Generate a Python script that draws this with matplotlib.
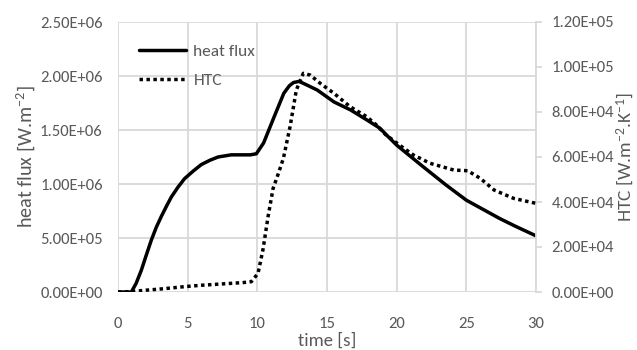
import matplotlib
matplotlib.use("Agg")
import matplotlib.pyplot as plt
from matplotlib import font_manager

fams = set(f.name for f in font_manager.fontManager.ttflist)
FONT = next((f for f in ["Carlito", "PT Sans Narrow", "Liberation Sans"] if f in fams), "DejaVu Sans")
plt.rcParams['font.family'] = [FONT, 'DejaVu Sans']
plt.rcParams['mathtext.fontset'] = 'custom'
plt.rcParams['mathtext.rm'] = FONT
plt.rcParams['mathtext.it'] = FONT
plt.rcParams['mathtext.default'] = 'rm'

# Data
t_hf = [0, 0.5, 0.96, 1.3, 1.67, 2.0, 2.39, 2.75, 3.11, 3.5, 3.83, 4.3, 4.78, 5.4, 5.98,
        6.6, 7.18, 8.13, 9.0, 9.5, 9.93, 10.45, 11.2, 11.9, 12.3, 12.6, 13.0, 13.5, 14.3, 15.5,
        16.7, 17.9, 18.8, 19.3, 20, 21.9, 23.5, 25, 27.4, 28.5, 30]
heat_flux = [0, 0, 0, 0.08, 0.20, 0.33, 0.48, 0.60, 0.70, 0.80, 0.88, 0.97, 1.05, 1.12, 1.18,
             1.22, 1.25, 1.27, 1.27, 1.27, 1.28, 1.38, 1.62, 1.84, 1.91, 1.94, 1.95, 1.92, 1.87,
             1.76, 1.685, 1.59, 1.516, 1.45, 1.36, 1.16, 0.995, 0.85, 0.68, 0.61, 0.52]
heat_flux = [v * 1e6 for v in heat_flux]

t_htc = [0, 1, 2, 3, 4, 4.8, 6, 7, 8, 9, 9.57, 10.05, 10.4, 10.77, 11.13, 11.5, 11.87, 12.35,
         12.8, 13.3, 13.8, 14.5, 15.5, 16.65, 17.85, 18.5, 19.2, 20.2, 21.2, 22.4, 24.1, 25.1,
         26, 27, 28.4, 30]
htc = [0, 0.2, 0.8, 1.3, 1.9, 2.4, 3.0, 3.4, 3.8, 4.2, 4.6, 8.3, 18.7, 33.5, 46, 52.5, 59.4, 73.5,
       89.8, 97.2, 96.4, 92.8, 88.3, 82.4, 77.9, 74.5, 70, 65.3, 60.9, 57.2, 54.2, 53.9,
       50.5, 45.3, 41.6, 39.4]
htc = [v * 1e3 for v in htc]

xticks = [0, 5, 10, 15, 20, 25, 30]
yticks_left = [0, 0.5e6, 1.0e6, 1.5e6, 2.0e6, 2.5e6]
yticks_right = [0, 2e4, 4e4, 6e4, 8e4, 1e5, 1.2e5]

TXT = "#595959"
GRID = "#d9d9d9"

fig = plt.figure(figsize=(6.37, 3.5), dpi=100)
ax = fig.add_axes([118/637, 1-292/350, (536-118)/637, (292-22)/350])
ax2 = ax.twinx()

ax.set_xlim(0, 30)
ax.set_ylim(0, 2.5e6)
ax2.set_ylim(0, 1.2e5)
ax.set_xticks(xticks)
ax.set_yticks(yticks_left)
ax2.set_yticks(yticks_right)
ax.set_yticklabels(["%.2E" % v for v in yticks_left])
ax2.set_yticklabels(["%.2E" % v for v in yticks_right])
ax.set_xticklabels([str(v) for v in xticks])

ax.grid(True, color=GRID, linewidth=1.3)
ax.set_axisbelow(True)
for a in (ax, ax2):
    for s in a.spines.values():
        s.set_visible(False)
ax2.spines['right'].set_visible(True)
ax2.spines['right'].set_color(GRID)
ax2.spines['right'].set_linewidth(1.3)

TS = 12
ax.tick_params(axis='y', length=0, labelsize=TS, colors=TXT, pad=11)
ax.tick_params(axis='x', length=0, labelsize=TS, colors=TXT, pad=18)
ax2.tick_params(axis='y', length=4, width=1.3, color=GRID, labelsize=TS, labelcolor=TXT, pad=7)

l1, = ax.plot(t_hf, heat_flux, color='black', lw=2.5, solid_capstyle='round',
              solid_joinstyle='round', zorder=3)
l2, = ax2.plot(t_htc, htc, color='black', lw=2.5, linestyle=(0, (1, 1)), zorder=3)

ax.set_xlabel("time [s]", color=TXT, fontsize=13.5, labelpad=1)
ax.set_ylabel("heat flux [W.m$^{-2}$]", color=TXT, fontsize=14.5, labelpad=2)
ax2.set_ylabel("HTC [W.m$^{-2}$.K$^{-1}$]", color=TXT, fontsize=14, labelpad=1)

leg = ax.legend([l1, l2], ["heat flux", "HTC"], loc='upper left', frameon=False,
                fontsize=12.5, handlelength=2.75, handletextpad=0.4, labelspacing=0.78,
                bbox_to_anchor=(0.033, 0.944), borderaxespad=0)
for txt in leg.get_texts():
    txt.set_color(TXT)

fig.savefig("out.png", dpi=100)
